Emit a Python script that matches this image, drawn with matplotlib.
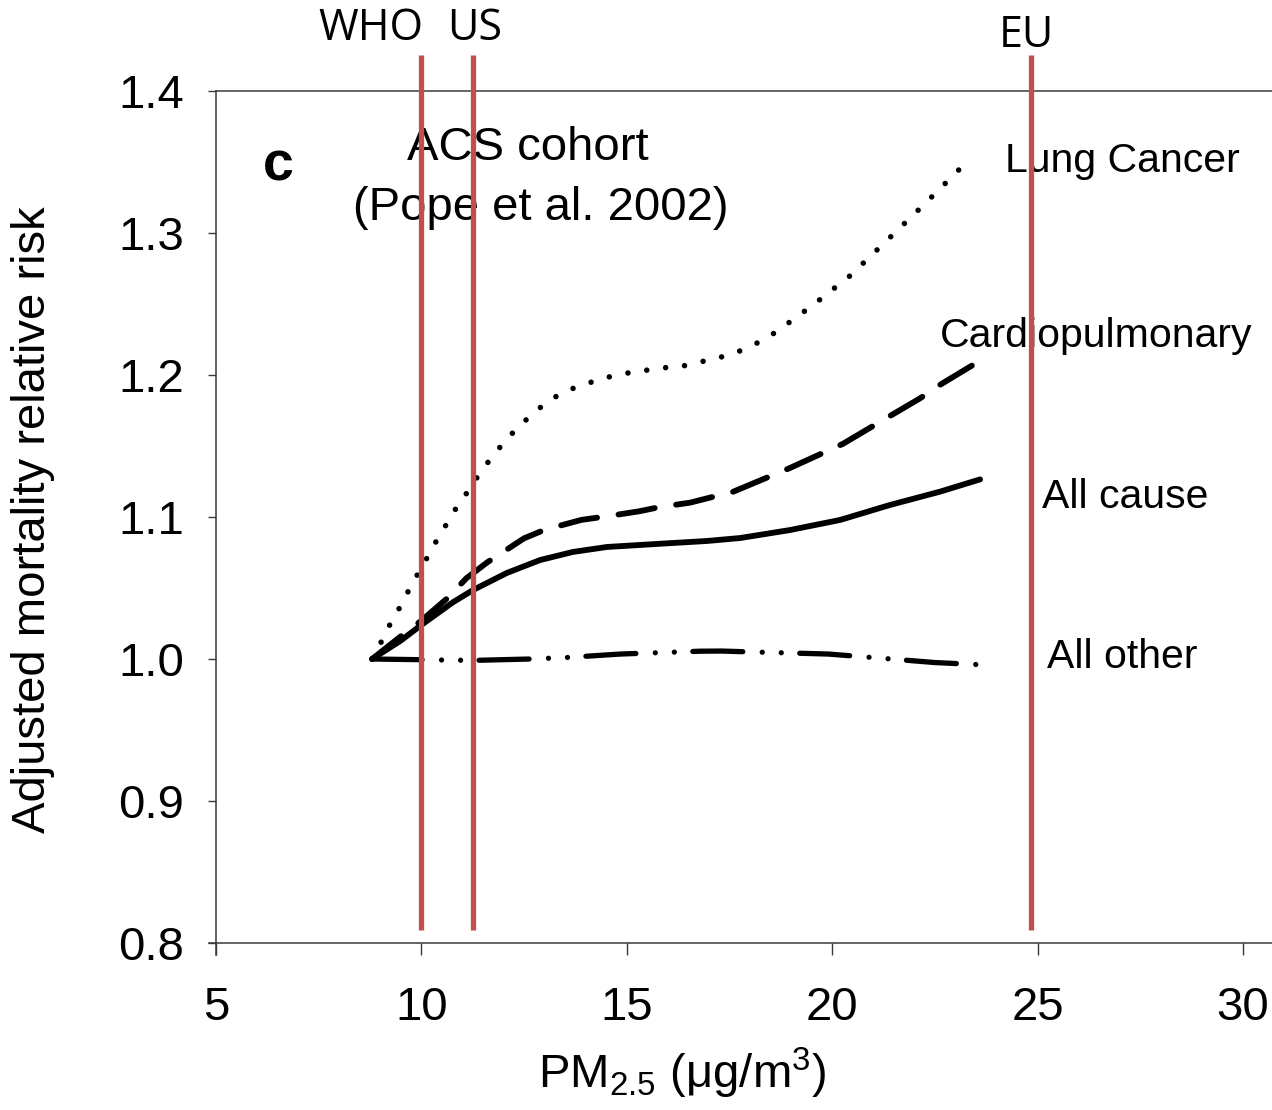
import matplotlib
matplotlib.use("Agg")
import matplotlib.pyplot as plt

plt.rcParams['font.family'] = ['Liberation Sans', 'DejaVu Sans']
plt.rcParams['mathtext.fontset'] = 'custom'
plt.rcParams['mathtext.rm'] = 'Liberation Sans'
plt.rcParams['mathtext.it'] = 'Liberation Sans:italic'
plt.rcParams['mathtext.bf'] = 'Liberation Sans:bold'
plt.rcParams['lines.scale_dashes'] = False

# ---------------- data ----------------
all_cause_x = [8.8, 9.5, 10.0, 10.77, 11.26, 12.08, 12.89, 13.69, 14.52, 15.32, 16.12, 16.95, 17.76,
               18.97, 20.19, 21.41, 22.62, 23.6]
all_cause_y = [1.0, 1.013, 1.024, 1.040, 1.0486, 1.0606, 1.0697, 1.0754, 1.0789, 1.0803, 1.0817, 1.0831,
               1.0852, 1.0908, 1.0979, 1.1085, 1.1178, 1.1265]

cardio_x = [8.8, 9.5, 10.0, 10.6, 11.1, 11.6, 12.5, 13.0, 13.9, 14.4, 15.3, 15.8, 16.54, 17.59, 18.97,
            20.26, 21.24, 22.14, 22.62, 23.6]
cardio_y = [1.0, 1.016, 1.027, 1.042, 1.057, 1.068, 1.085, 1.091, 1.098, 1.100, 1.104, 1.107, 1.1101,
            1.1178, 1.1345, 1.1515, 1.1683, 1.1836, 1.193, 1.2101]

lung_x = [8.8, 9.04, 9.28, 9.53, 9.77, 10.04, 10.28, 10.55, 10.84, 11.13, 11.45, 11.79, 12.18, 12.64,
          13.1, 13.54, 14.03, 14.47, 14.93, 15.39, 15.86, 16.32, 16.76, 17.22, 17.68, 18.17, 18.62, 19.52,
          20.44, 21.34, 22.27, 23.17]
lung_y = [1.0, 1.013, 1.027, 1.039, 1.053, 1.066, 1.079, 1.092, 1.106, 1.118, 1.132, 1.145, 1.158, 1.171,
          1.182, 1.189, 1.194, 1.198, 1.201, 1.203, 1.205, 1.206, 1.209, 1.212, 1.216, 1.2225, 1.230, 1.249,
          1.270, 1.295, 1.321, 1.347]

other_x = [8.8, 10.0, 11.25, 12.65, 13.5, 14.85, 16.8, 17.3, 18.0, 19.9, 21.0, 22.5, 23.6]
other_y = [1.0, 0.9995, 0.999, 1.0, 1.001, 1.0035, 1.0055, 1.0056, 1.005, 1.0035, 1.001, 0.9975, 0.996]

standards_names = ["WHO", "US", "EU"]
standards_x = [10.0, 11.25, 24.85]

curve_labels = ["Lung Cancer", "Cardiopulmonary", "All cause", "All other"]

x_ticks = [5, 10, 15, 20, 25, 30]
y_ticks = [0.8, 0.9, 1.0, 1.1, 1.2, 1.3, 1.4]

# ---------------- figure ----------------
W, H = 1272, 1110
fig = plt.figure(figsize=(W / 100, H / 100), dpi=100)
ax_left, ax_right, ax_top, ax_bottom = 216, 1272, 91, 943
ax = fig.add_axes([ax_left / W, 1 - ax_bottom / H, (ax_right - ax_left) / W, (ax_bottom - ax_top) / H])

xmax = 5 + (1272 - 216) / 41.08
ax.set_xlim(5, xmax)
ax.set_ylim(0.8, 1.4)

spine_col = '#3a3a3a'
for s in ['left', 'bottom', 'top']:
    ax.spines[s].set_color(spine_col)
    ax.spines[s].set_linewidth(1.1)
ax.spines['right'].set_visible(False)
ax.spines['left'].set_bounds(0.7915, 1.4)
ax.spines['bottom'].set_bounds(4.83, xmax)

ax.set_xticks(x_ticks)
ax.set_yticks(y_ticks)
ax.set_xticklabels([str(v) for v in x_ticks])
ax.set_yticklabels([f"{v:.1f}" for v in y_ticks])
ax.tick_params(axis='x', direction='out', length=8.6, width=1.0, color=spine_col, pad=22, labelsize=34)
ax.tick_params(axis='y', direction='out', length=6, width=1.0, color=spine_col, pad=17, labelsize=34)

lw = 4.2
ax.plot(lung_x, lung_y, color='black', lw=4.0, dashes=(0.01, 13.7), dash_capstyle='round', solid_capstyle='round')
ax.plot(cardio_x, cardio_y, color='black', lw=lw, dashes=(26.5, 15.6), dash_capstyle='round')
ax.plot(all_cause_x, all_cause_y, color='black', lw=lw, solid_capstyle='round', solid_joinstyle='round')
ax.plot(other_x, other_y, color='black', lw=3.8, dashes=(36, 14, 0.01, 13.7, 0.01, 13.3), dash_capstyle='round')

# regulatory standards
red = '#C0504D'
y_top = 1.4 + (91 - 55) / 1420
y_bot = 1.4 - (930 - 91) / 1420
for xs in standards_x:
    ax.plot([xs, xs], [y_bot, y_top], color=red, lw=3.8, clip_on=False, solid_capstyle='butt', zorder=5)

std_label_pos = [(8.77, 1.4359), (11.30, 1.4359), (24.72, 1.431)]
for name, (lx, ly) in zip(standards_names, std_label_pos):
    ax.text(lx, ly, name, ha='center', va='baseline', fontsize=31, family=['Open Sans', 'DejaVu Sans'],
            clip_on=False)

# annotations
ax.text(6.51, 1.3373, "c", fontsize=40, fontweight='bold', ha='center', va='baseline')
ax.text(12.6, 1.3514, "ACS cohort", fontsize=34, ha='center', va='baseline')
ax.text(12.91, 1.309, "(Pope et al. 2002)", fontsize=34, ha='center', va='baseline')

label_pos = [(24.21, 1.343), (22.62, 1.2197), (25.11, 1.1063), (25.23, 0.9937)]
for txt, (lx, ly) in zip(curve_labels, label_pos):
    ax.text(lx, ly, txt, fontsize=29.5, ha='left', va='baseline')

ax.set_xlabel(r'PM$_{\mathrm{2.5}}$ ($\mathrm{\mu}$g/m$^{\mathrm{3}}$)', fontsize=34)
ax.xaxis.set_label_coords((682 - 216) / 1056, -(1046 - 943) / 852)
ax.set_ylabel('Adjusted mortality relative risk', fontsize=34)
ax.yaxis.set_label_coords((55 - 216) / 1056, 1 - (520 - 91) / 852)

fig.savefig('out.png', dpi=100)
